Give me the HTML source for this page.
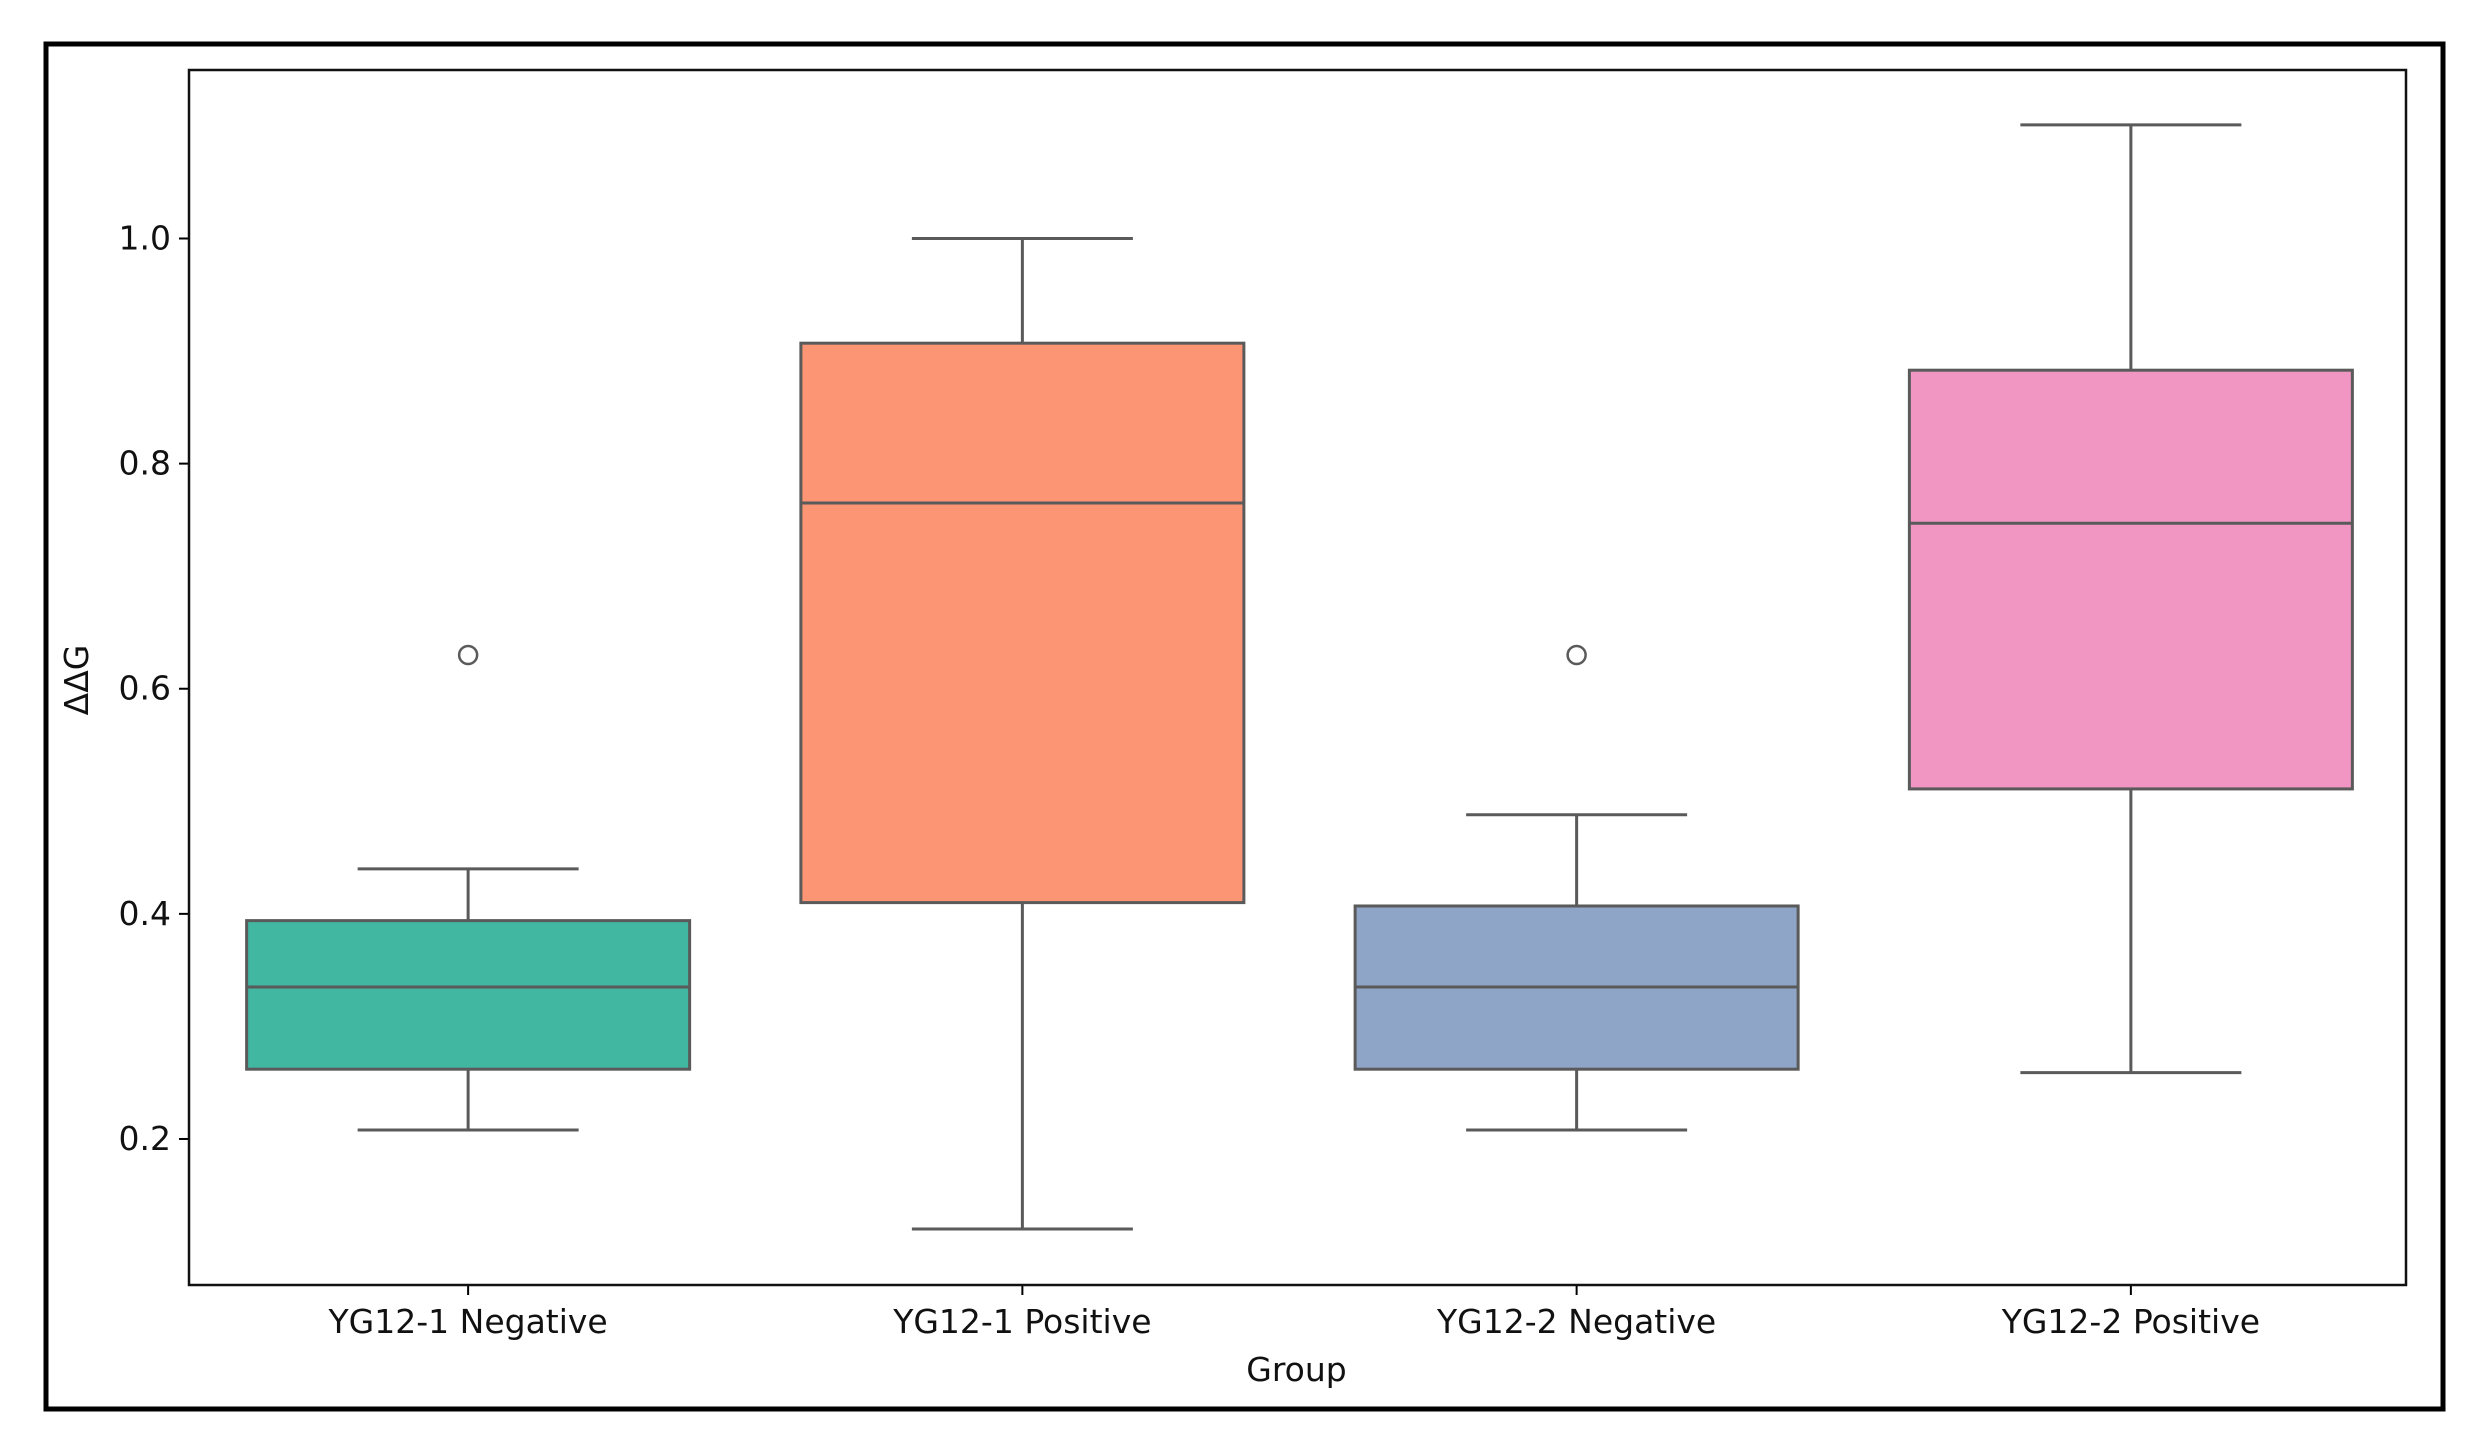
<!DOCTYPE html>
<html><head><meta charset="utf-8">
<style>
html,body{margin:0;padding:0;background:#fff;}
svg{display:block;font-family:"DejaVu Sans","Liberation Sans",sans-serif;}
</style></head>
<body>
<svg id="chart" width="2480" height="1448" viewBox="0 0 2480 1448" xmlns="http://www.w3.org/2000/svg">
<rect x="46" y="44" width="2397" height="1365" fill="none" stroke="#000" stroke-width="5"/>
<g id="plot"></g>
</svg>
<script>
const categories = ["YG12-1 Negative","YG12-1 Positive","YG12-2 Negative","YG12-2 Positive"];
const whiskerLow = [0.208, 0.12, 0.208, 0.259];
const q1 = [0.262, 0.41, 0.262, 0.511];
const medians = [0.335, 0.765, 0.335, 0.747];
const q3 = [0.394, 0.907, 0.407, 0.883];
const whiskerHigh = [0.44, 1.0, 0.488, 1.101];
const outliers = [[0.63], [], [0.63], []];
const colors = ["#41b6a0","#fc9574","#8fa5c8","#f196c3"];
const yTicks = [0.2, 0.4, 0.6, 0.8, 1.0];
const yTickLabels = ["0.2","0.4","0.6","0.8","1.0"];

const L=189, R=2406, T=70, B=1285;
const y = v => 238.5 + (1 - v) * 1125.6;
const bandW = (R - L) / categories.length;
const x = i => L + bandW * (i + 0.5) + 2;
const boxW = 443, capW = 221;
const NS = "http://www.w3.org/2000/svg";
const g = document.getElementById("plot");
function mk(tag, attrs, parent) {
  const e = document.createElementNS(NS, tag);
  for (const k in attrs) e.setAttribute(k, attrs[k]);
  (parent || g).appendChild(e);
  return e;
}
const lc = "#5a5a5a", lw = 3;
categories.forEach((c, i) => {
  const cx = x(i);
  const grp = mk("g", {});
  
  
  const w1 = mk("line", {x1: cx, x2: cx, y1: y(whiskerLow[i]), y2: y(q1[i]), stroke: lc, "stroke-width": lw}, grp);
  
  
  const w2 = mk("line", {x1: cx, x2: cx, y1: y(whiskerHigh[i]), y2: y(q3[i]), stroke: lc, "stroke-width": lw}, grp);
  
  
  const c1 = mk("line", {x1: cx - capW/2, x2: cx + capW/2, y1: y(whiskerLow[i]), y2: y(whiskerLow[i]), stroke: lc, "stroke-width": lw}, grp);
  
  
  const c2 = mk("line", {x1: cx - capW/2, x2: cx + capW/2, y1: y(whiskerHigh[i]), y2: y(whiskerHigh[i]), stroke: lc, "stroke-width": lw}, grp);
  
  
  const box = mk("rect", {x: cx - boxW/2, y: y(q3[i]), width: boxW, height: y(q1[i]) - y(q3[i]), fill: colors[i], stroke: lc, "stroke-width": lw}, grp);
  
  
  const m = mk("line", {x1: cx - boxW/2, x2: cx + boxW/2, y1: y(medians[i]), y2: y(medians[i]), stroke: lc, "stroke-width": lw}, grp);
  
  
  outliers[i].forEach(v => {
    const o = mk("circle", {cx: cx, cy: y(v), r: 9, fill: "none", stroke: lc, "stroke-width": 2.5}, grp);
    
    
  });
  const tk = mk("line", {x1: cx, x2: cx, y1: B, y2: B + 10, stroke: "#000", "stroke-width": 2});
  
  
  const t = mk("text", {x: cx, y: 1333, "text-anchor": "middle", "font-size": 33, fill: "#111"});
  t.textContent = c;
  
  
});
yTicks.forEach((v, i) => {
  const tk = mk("line", {x1: L - 10, x2: L, y1: y(v), y2: y(v), stroke: "#000", "stroke-width": 2});
  
  
  const t = mk("text", {x: L - 18, y: y(v) + 11, "text-anchor": "end", "font-size": 33, fill: "#111"});
  t.textContent = yTickLabels[i];
  
  
});
const frame = mk("rect", {x: L, y: T, width: R - L, height: B - T, fill: "none", stroke: "#111", "stroke-width": 2.5});


const xt = mk("text", {x: (L + R) / 2 - 1, y: 1381, "text-anchor": "middle", "font-size": 33, fill: "#111"});
xt.textContent = "Group";


const yt = mk("text", {x: 0, y: 0, "text-anchor": "middle", "font-size": 33, fill: "#111", transform: "translate(88,680) rotate(-90)"});
yt.textContent = "ΔΔG";


</script>
</body></html>
